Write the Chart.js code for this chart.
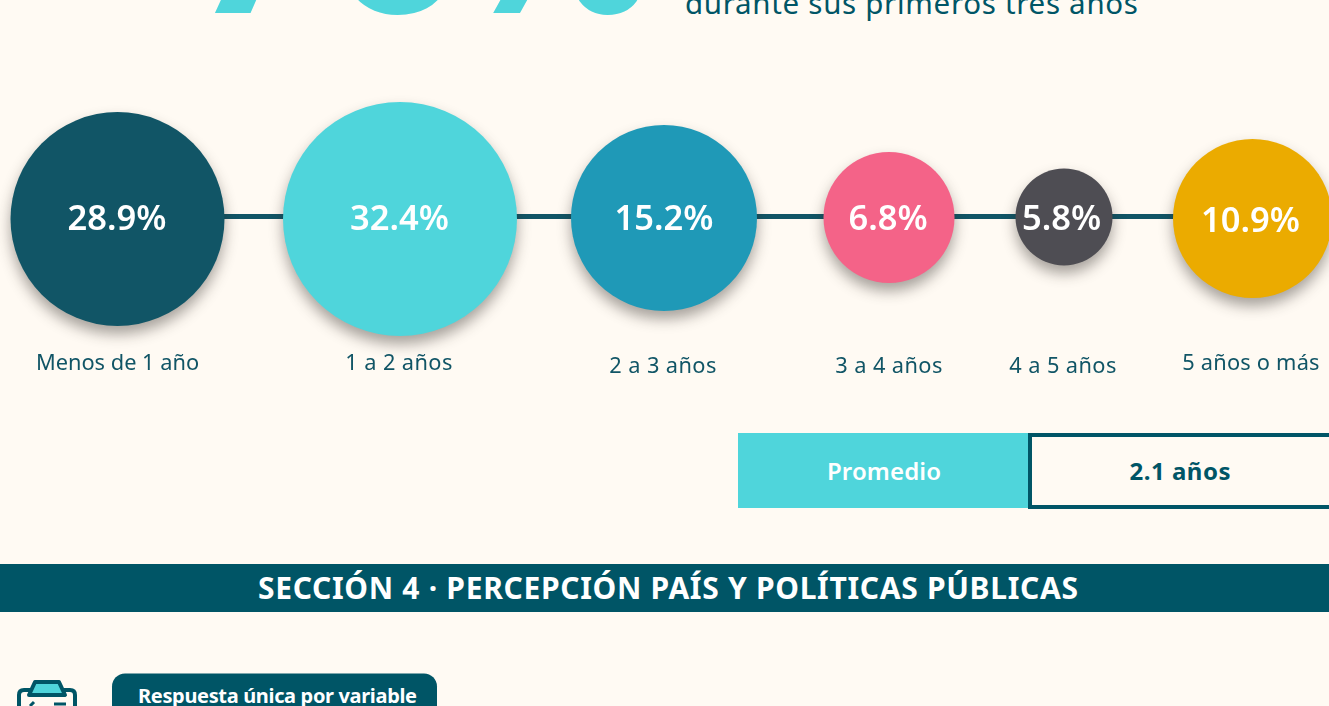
<!DOCTYPE html>
<html lang="es">
<head>
<meta charset="utf-8">
<title>Tiempo</title>
<script src="https://cdn.jsdelivr.net/npm/chart.js@4"></script>
<style>
html,body{margin:0;padding:0;background:#FFFAF3;width:1329px;height:706px;overflow:hidden}
#deco,#c{position:absolute;left:0;top:0}
text{font-family:"Noto Sans",sans-serif}
</style>
</head>
<body>
<svg id="deco" width="1329" height="706" viewBox="0 0 1329 706" xmlns="http://www.w3.org/2000/svg">
  <text x="190 331 450" y="12.5" font-size="225" font-weight="700" fill="#4FD5DB">76%</text>
  <text x="685" y="14" font-size="29.5" textLength="453" lengthAdjust="spacing" fill="#005566">durante sus primeros tres años</text>
  <rect x="738" y="433" width="290" height="75" fill="#4FD5DB"/>
  <rect x="1030" y="435" width="302" height="72" fill="#FFFAF3" stroke="#005566" stroke-width="4"/>
  <text x="884" y="480" font-size="24" font-weight="600" text-anchor="middle" textLength="114" lengthAdjust="spacing" fill="#FFFFFF">Promedio</text>
  <text x="1180" y="480" font-size="24" font-weight="700" text-anchor="middle" textLength="101" lengthAdjust="spacing" fill="#005566">2.1 años</text>
  <rect x="0" y="564" width="1329" height="48" fill="#005566"/>
  <text x="668" y="599" font-size="30" font-weight="700" text-anchor="middle" textLength="820" lengthAdjust="spacing" fill="#FFFFFF">SECCIÓN 4 · PERCEPCIÓN PAÍS Y POLÍTICAS PÚBLICAS</text>
  <rect x="112" y="673.5" width="325" height="60" rx="13" fill="#005566"/>
  <text x="277.5" y="703" font-size="20" font-weight="700" text-anchor="middle" textLength="279" lengthAdjust="spacing" fill="#FFFFFF">Respuesta única por variable</text>
  <path d="M30 690 H24 Q19 690 19 695 V720 H75 V695 Q75 690 70 690 H64" fill="none" stroke="#005566" stroke-width="4"/>
  <path d="M29 695 L35 682 H59 L65 695 Z" fill="#4FD5DB" stroke="#005566" stroke-width="4" stroke-linejoin="round"/>
  <path d="M30 706 L34 702 M54 704 H66" fill="none" stroke="#005566" stroke-width="3"/>
</svg>
<canvas id="c" width="1329" height="706"></canvas>
<script>
// Data
const categories = ["Menos de 1 año", "1 a 2 años", "2 a 3 años", "3 a 4 años", "4 a 5 años", "5 años o más"];
const shares = [28.9, 32.4, 15.2, 6.8, 5.8, 10.9];

// Layout along the timeline axis (axis units), kept apart from the data
const timelineX = [117.5, 400, 664, 889, 1064, 1252.5];
const timelineY = [219, 219, 218, 217.5, 217, 218.5];
const connectorY = 216.5;
const bubbleRadius = [107, 117, 93, 65.5, 48.5, 79.5];
const bubbleColors = ["#115566", "#4FD5DB", "#1F99B7", "#F46388", "#4E4D53", "#EBAB00"];
const labelX = [117.5, 399, 663, 889, 1063, 1251];
const labelY = [369.5, 369.5, 372.5, 372.5, 372.5, 369.5];
const labelSpacing = ["0px", "0.4px", "0.4px", "0.4px", "0.4px", "0.2px"];
const valueX = [117, 399.5, 664, 888, 1061.5, 1250.5];
const valueY = [229.5, 229.5, 229.5, 229.5, 229.5, 232];

const FONT = '"Noto Sans", sans-serif';

const bubbleShadow = {
  id: 'bubbleShadow',
  beforeDatasetDraw(chart, args) {
    if (args.index !== 0) return;
    const c = chart.ctx;
    c.save();
    c.shadowColor = 'rgba(45,40,35,0.42)';
    c.shadowBlur = 14;
    c.shadowOffsetX = 0;
    c.shadowOffsetY = 8;
  },
  afterDatasetDraw(chart, args) {
    if (args.index !== 0) return;
    chart.ctx.restore();
  }
};

const textLabels = {
  id: 'textLabels',
  afterDatasetsDraw(chart) {
    const c = chart.ctx, xs = chart.scales.x, ys = chart.scales.y;
    c.save();
    c.textAlign = 'center';
    c.textBaseline = 'alphabetic';
    shares.forEach((v, i) => {
      c.letterSpacing = '0px';
      c.fillStyle = '#FFFFFF';
      c.font = '600 34.5px ' + FONT;
      c.fillText(v.toFixed(1) + '%', xs.getPixelForValue(valueX[i]), ys.getPixelForValue(valueY[i]));
      c.letterSpacing = labelSpacing[i];
      c.fillStyle = '#115566';
      c.font = '400 21.8px ' + FONT;
      c.fillText(categories[i], xs.getPixelForValue(labelX[i]), ys.getPixelForValue(labelY[i]));
    });
    c.restore();
  }
};

new Chart(document.getElementById('c'), {
  type: 'bubble',
  data: {
    labels: categories,
    datasets: [
      {
        type: 'bubble',
        order: 0,
        data: shares.map((v, i) => ({ x: timelineX[i], y: timelineY[i], r: bubbleRadius[i], share: v })),
        backgroundColor: bubbleColors,
        borderWidth: 0,
        hoverRadius: 0,
        clip: false
      },
      {
        type: 'line',
        order: 1,
        data: timelineX.map(x => ({ x, y: connectorY })),
        borderColor: '#115566',
        borderWidth: 5,
        pointRadius: 0,
        fill: false,
        tension: 0
      }
    ]
  },
  options: {
    responsive: false,
    animation: false,
    events: [],
    layout: { padding: 0, autoPadding: false },
    plugins: { legend: { display: false }, tooltip: { enabled: false }, title: { display: false } },
    scales: {
      x: { type: 'linear', display: false, min: 0, max: 1329 },
      y: { type: 'linear', display: false, min: 0, max: 706, reverse: true }
    }
  },
  plugins: [bubbleShadow, textLabels]
});
</script>
</body>
</html>
